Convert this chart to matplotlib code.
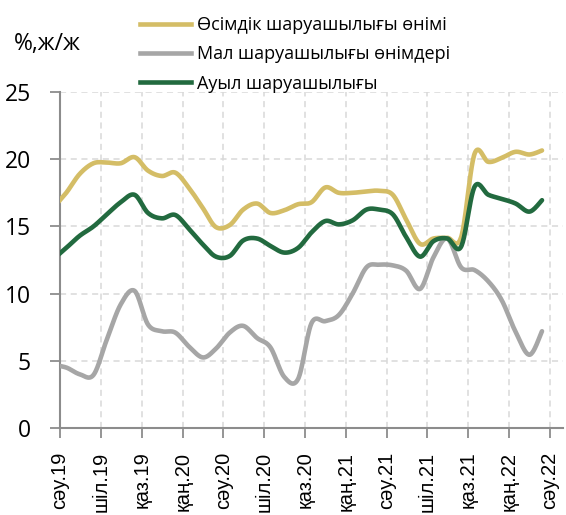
import numpy as np
import pandas as pd
import matplotlib
matplotlib.use("Agg")
import matplotlib.pyplot as plt
import matplotlib.dates as mdates
from matplotlib.lines import Line2D

# ---- data (monthly, mid-month observations) ----
dates = pd.date_range("2019-03-01", periods=37, freq="MS") + pd.Timedelta(days=14)

crop = [16.3, 17.5, 18.9, 19.7, 19.75, 19.7, 20.15, 19.15, 18.75, 19.0,
        17.85, 16.35, 14.95, 15.1, 16.25, 16.7, 16.0, 16.2, 16.65, 16.8,
        17.9, 17.5, 17.5, 17.6, 17.65, 17.35, 15.5, 13.7, 14.1, 14.15,
        14.2, 20.4, 19.8, 20.1, 20.55, 20.35, 20.65]

livestock = [4.7, 4.5, 4.0, 3.95, 6.6, 9.2, 10.2, 7.7, 7.2, 7.1,
             6.05, 5.25, 5.9, 7.1, 7.6, 6.7, 6.0, 3.8, 3.65, 7.8,
             7.95, 8.4, 10.0, 11.95, 12.15, 12.1, 11.7, 10.35, 12.7, 14.1,
             11.95, 11.75, 10.9, 9.5, 7.15, 5.45, 7.2]

agri = [12.5, 13.4, 14.3, 15.0, 15.9, 16.8, 17.35, 16.0, 15.6, 15.85,
        14.8, 13.65, 12.75, 12.8, 13.95, 14.1, 13.55, 13.05, 13.4, 14.55,
        15.4, 15.15, 15.45, 16.25, 16.25, 15.9, 14.2, 12.75, 13.9, 14.1,
        13.5, 17.95, 17.35, 17.05, 16.7, 16.1, 16.95]

series_names = ["Өсімдік шаруашылығы өнімі",
                "Мал шаруашылығы өнімдері",
                "Ауыл шаруашылығы"]
colors = ["#D4BD66", "#A6A6A6", "#226A3F"]

tick_dates = pd.date_range("2019-04-01", "2022-04-01", freq="3MS")
tick_labels = ["сәу.19", "шіл.19", "қаз.19", "қаң.20", "сәу.20", "шіл.20",
               "қаз.20", "қаң.21", "сәу.21", "шіл.21", "қаз.21", "қаң.22",
               "сәу.22"]


def smooth(x, y, n=24):
    """Excel-like smoothed line (Catmull-Rom via cubic Bezier)."""
    x = np.asarray(x, float)
    y = np.asarray(y, float)
    P = np.column_stack([x, y])
    Pe = np.vstack([P[0], P, P[-1]])
    out = []
    t = np.linspace(0, 1, n, endpoint=False)[:, None]
    for i in range(len(P) - 1):
        p0, p1, p2, p3 = Pe[i], Pe[i + 1], Pe[i + 2], Pe[i + 3]
        c1 = p1 + (p2 - p0) / 6.0
        c2 = p2 - (p3 - p1) / 6.0
        seg = ((1 - t) ** 3) * p1 + 3 * ((1 - t) ** 2) * t * c1 + \
            3 * (1 - t) * t ** 2 * c2 + t ** 3 * p2
        out.append(seg)
    out.append(P[-1][None, :])
    out = np.vstack(out)
    return out[:, 0], out[:, 1]


fig = plt.figure(figsize=(5.66, 5.15), dpi=100)
ax = fig.add_axes([60 / 566, (515 - 428) / 515, (563 - 60) / 566, (428 - 92) / 515])

xnum = mdates.date2num(dates.to_pydatetime())
handles = []
for vals, c, name in zip([crop, livestock, agri], colors, series_names):
    sx, sy = smooth(xnum, vals)
    ax.plot(sx, sy, color=c, lw=3.3, solid_capstyle="round", zorder=3)
    handles.append(Line2D([0], [0], color=c, lw=3.3, label=name))

ax.set_xlim(mdates.date2num(pd.Timestamp("2019-04-01")),
            mdates.date2num(pd.Timestamp("2022-05-01")))
ax.set_ylim(0, 25)
ax.set_yticks([0, 5, 10, 15, 20, 25])
ax.set_xticks(mdates.date2num(tick_dates.to_pydatetime()))
ax.set_xticklabels(tick_labels, rotation=90, fontsize=14.5,
                   family=["Liberation Sans", "DejaVu Sans"])
for lab in ax.get_yticklabels():
    lab.set_fontsize(16.5)
    lab.set_family(["Open Sans", "DejaVu Sans"])

ax.grid(True, color="#D9D9D9", linestyle=(0, (4, 3)), lw=1.1, zorder=0)
ax.set_axisbelow(True)
for s in ["top", "right"]:
    ax.spines[s].set_visible(False)
for s in ["left", "bottom"]:
    ax.spines[s].set_color("#8C8C8C")
    ax.spines[s].set_linewidth(1.5)
ax.tick_params(axis="x", direction="out", length=7, width=1.3, color="#8C8C8C", pad=10)
ax.tick_params(axis="y", direction="out", length=7, width=1.3, color="#8C8C8C", pad=14)

fig.text(14 / 566, 1 - 44 / 515, "%,ж/ж", fontsize=16.5,
         family=["Open Sans", "DejaVu Sans"], va="center", ha="left")

leg = fig.legend(handles=handles, loc="upper left",
                 bbox_to_anchor=(124 / 566, 1 - 0 / 515),
                 frameon=False, prop={"family": ["Open Sans", "DejaVu Sans"], "size": 13},
                 handlelength=2.8, handletextpad=0.35, labelspacing=0.62)

fig.savefig("out.png", dpi=100)
